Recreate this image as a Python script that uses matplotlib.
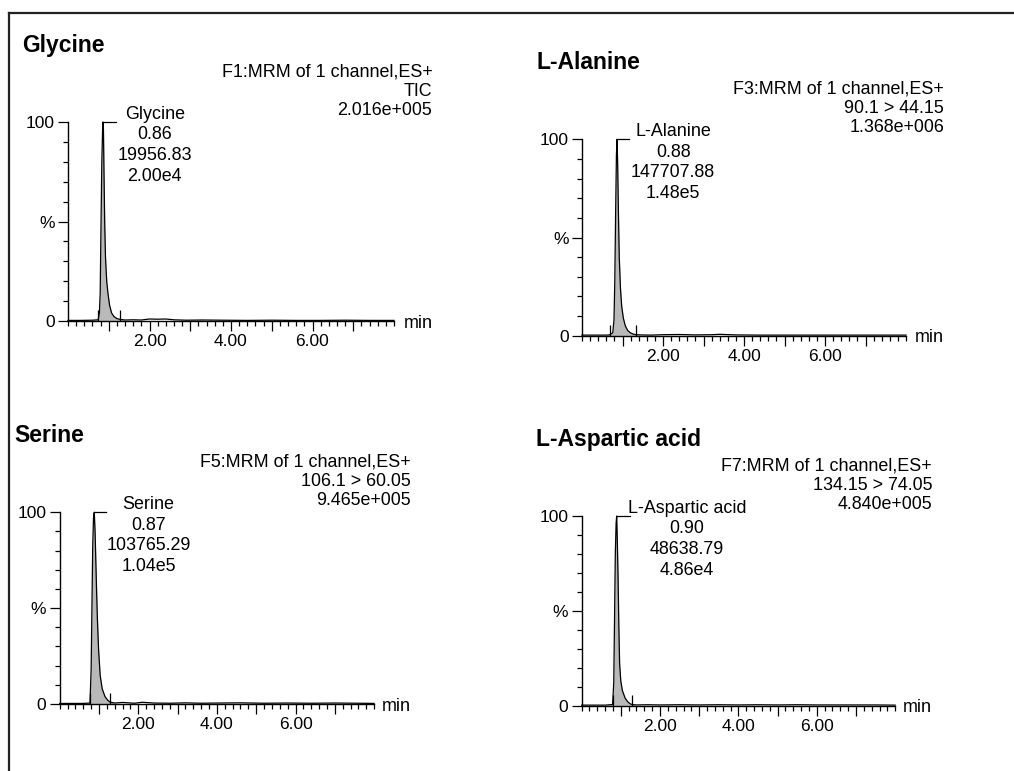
"""Four MRM chromatograms (Glycine, L-Alanine, Serine, L-Aspartic acid) in MassLynx style."""

import matplotlib
matplotlib.use("Agg")
import matplotlib.pyplot as plt
import numpy as np
from matplotlib.lines import Line2D
from matplotlib.ticker import MultipleLocator

plt.rcParams["font.family"] = ["Liberation Sans", "DejaVu Sans"]

# ── Data ──────────────────────────────────────────────────────────────────────
COMPOUNDS = ["Glycine", "L-Alanine", "Serine", "L-Aspartic acid"]
RET_TIME = ["0.86", "0.88", "0.87", "0.90"]
PEAK_AREA = ["19956.83", "147707.88", "103765.29", "48638.79"]
PEAK_HEIGHT = ["2.00e4", "1.48e5", "1.04e5", "4.86e4"]
FUNCTION = ["F1:MRM of 1 channel,ES+", "F3:MRM of 1 channel,ES+",
            "F5:MRM of 1 channel,ES+", "F7:MRM of 1 channel,ES+"]
TRANSITION = ["TIC", "90.1 > 44.15", "106.1 > 60.05", "134.15 > 74.05"]
MAX_INTENSITY = ["2.016e+005", "1.368e+006", "9.465e+005", "4.840e+005"]

# integration limits (min)
PEAK_START = [0.74, 0.68, 0.77, 0.79]
PEAK_END = [1.28, 1.33, 1.28, 1.29]

# traces: time (min) / relative intensity (%)
GLY_T = [0.00, 0.30, 0.60, 0.74, 0.77, 0.79, 0.81, 0.83, 0.85, 0.86,
         0.87, 0.88, 0.90, 0.92, 0.95, 0.98, 1.02, 1.07, 1.13, 1.20,
         1.28, 1.40, 1.60, 1.80, 2.00, 2.20, 2.40, 2.60, 2.90, 3.30,
         3.80, 4.40, 5.00, 5.60, 6.20, 6.80, 7.40, 8.00]
GLY_I = [0.3, 0.3, 0.4, 0.6, 4, 14, 48, 80, 97, 100,
         96, 80, 50, 32, 20, 14, 8, 4, 2.2, 1.2,
         0.8, 0.5, 0.6, 0.5, 1.0, 0.9, 1.0, 0.6, 0.4, 0.5,
         0.4, 0.3, 0.4, 0.3, 0.3, 0.4, 0.3, 0.3]

ALA_T = [0.00, 0.30, 0.60, 0.68, 0.76, 0.79, 0.81, 0.83, 0.85, 0.865,
         0.88, 0.90, 0.92, 0.95, 0.98, 1.02, 1.07, 1.13, 1.20, 1.27,
         1.33, 1.45, 1.70, 2.00, 2.40, 2.80, 3.20, 3.40, 3.80, 4.40,
         5.00, 5.60, 6.20, 6.80, 7.40, 8.00]
ALA_I = [0.3, 0.3, 0.3, 0.4, 1.5, 8, 28, 62, 92, 100,
         88, 62, 40, 24, 15, 9, 5, 2.6, 1.4, 0.8,
         0.5, 0.4, 0.3, 0.5, 0.6, 0.4, 0.5, 0.7, 0.4, 0.3,
         0.3, 0.3, 0.3, 0.3, 0.3, 0.3]

SER_T = [0.00, 0.30, 0.60, 0.77, 0.80, 0.82, 0.84, 0.86, 0.88, 0.90,
         0.92, 0.94, 0.96, 0.99, 1.03, 1.08, 1.15, 1.22, 1.28, 1.40,
         1.60, 1.90, 2.10, 2.40, 2.80, 3.20, 3.60, 4.00, 4.60, 5.20,
         5.80, 6.40, 7.00, 7.60, 8.00]
SER_I = [0.3, 0.3, 0.3, 0.5, 18, 50, 82, 97, 100, 90,
         74, 58, 44, 28, 15, 8, 4, 2, 1, 0.5,
         0.8, 0.4, 0.9, 0.5, 0.4, 0.6, 0.4, 0.5, 0.6, 0.4,
         0.5, 0.4, 0.5, 0.4, 0.3]

ASP_T = [0.00, 0.30, 0.60, 0.79, 0.82, 0.84, 0.86, 0.88, 0.895, 0.91,
         0.93, 0.95, 0.97, 1.00, 1.04, 1.11, 1.18, 1.24, 1.29, 1.40,
         1.70, 2.00, 2.50, 3.00, 3.50, 4.00, 4.50, 5.00, 5.50, 6.00,
         6.50, 7.00, 7.50, 8.00]
ASP_I = [0.3, 0.3, 0.3, 0.6, 12, 45, 80, 96, 100, 88,
         68, 42, 22, 13, 8, 4, 2, 1, 0.6, 0.4,
         0.5, 0.4, 0.5, 0.4, 0.5, 0.4, 0.5, 0.4, 0.5, 0.4,
         0.4, 0.4, 0.4, 0.3]

TRACES = [(GLY_T, GLY_I), (ALA_T, ALA_I), (SER_T, SER_I), (ASP_T, ASP_I)]

# ── Layout ────────────────────────────────────────────────────────────────────
W, H, DPI = 1014, 771, 100
# pixel boxes: left edge (t=0), width for 8 min, y of 0 %, y of 100 %
BOXES = [(68, 326, 321, 122), (582, 324, 335.7, 139.3),
         (59.7, 314.4, 704, 512.3), (581.6, 313.6, 705.7, 516)]
LABEL_X = [2.13, 2.25, 2.26, 2.69]   # centre of peak labels (min)
LEADER_END = [1.19, 1.17, 1.18, 1.23]
RIGHT_X = 8.94                       # right edge of header text / "min"

FILL = "#b9b9b9"
LW = 0.9
TXT = 12.9


def draw_panel(ax, k):
    t = np.array(TRACES[k][0])
    y = np.array(TRACES[k][1])
    s, e = PEAK_START[k], PEAK_END[k]

    ax.fill_between(t, y, where=(t >= s) & (t <= e), interpolate=True,
                    color=FILL, linewidth=0)
    ax.plot(t, y, color="black", linewidth=LW, clip_on=False)
    ax.vlines([s, e], 0, 5.5, color="black", linewidth=LW)
    apex = t[np.argmax(y)]
    ax.plot([apex, LEADER_END[k]], [100, 100], color="black",
            linewidth=LW, clip_on=False)

    ax.set_xlim(0, 8)
    ax.set_ylim(0, 100)
    ax.spines[["top", "right"]].set_visible(False)
    for sp in ("left", "bottom"):
        ax.spines[sp].set_linewidth(1.0)

    ax.set_yticks([0, 50, 100])
    ax.set_yticklabels(["0", "%", "100"])
    ax.yaxis.set_minor_locator(MultipleLocator(10))
    ax.set_xticks(range(1, 8))
    ax.set_xticklabels(["", "2.00", "", "4.00", "", "6.00", ""])
    ax.xaxis.set_minor_locator(MultipleLocator(0.2))
    ax.tick_params(which="major", direction="out", length=7.2, width=LW,
                   labelsize=12.5, pad=2.5)
    ax.tick_params(which="minor", direction="out", length=3.8, width=LW)

    # compound title
    ax.annotate(COMPOUNDS[k], xy=(0, 100), xytext=(-33, 55),
                textcoords="offset points", fontsize=16.5, fontweight="bold",
                ha="left", va="center")
    # header: function / transition / max intensity
    header = [FUNCTION[k], TRANSITION[k], MAX_INTENSITY[k]]
    for i, line in enumerate(header):
        ax.annotate(line, xy=(RIGHT_X, 100), xytext=(0, 36 - i * 13.8),
                    textcoords="offset points", fontsize=TXT,
                    ha="right", va="center", annotation_clip=False)
    # peak label
    lab = [COMPOUNDS[k], RET_TIME[k], PEAK_AREA[k], PEAK_HEIGHT[k]]
    for i, line in enumerate(lab):
        ax.annotate(line, xy=(LABEL_X[k], 100), xytext=(0, 5.5 - i * 14.8),
                    textcoords="offset points", fontsize=TXT,
                    ha="center", va="center", annotation_clip=False)
    ax.annotate("min", xy=(RIGHT_X, 0), xytext=(0, -1.5),
                textcoords="offset points", fontsize=TXT,
                ha="right", va="center", annotation_clip=False)


def main():
    fig = plt.figure(figsize=(W / DPI, H / DPI), dpi=DPI)
    for k, (x0, span, y0, y100) in enumerate(BOXES):
        ax = fig.add_axes([x0 / W, 1 - y0 / H, span / W, (y0 - y100) / H])
        draw_panel(ax, k)

    # outer frame (only top and left edges visible)
    top = 1 - 12.7 / H
    fig.add_artist(Line2D([9.3 / W, 1], [top, top], color="#222222", linewidth=1.6))
    fig.add_artist(Line2D([9.3 / W, 9.3 / W], [0, top], color="#222222", linewidth=1.6))

    fig.savefig("out.png", dpi=DPI)
    plt.close(fig)


if __name__ == "__main__":
    main()
